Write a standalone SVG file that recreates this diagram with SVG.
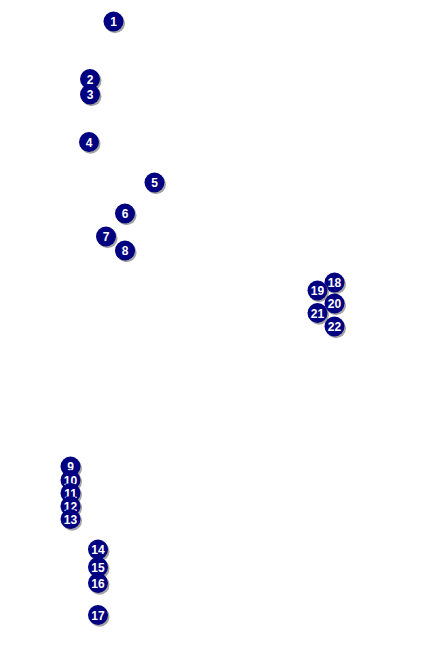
<svg xmlns="http://www.w3.org/2000/svg" width="433" height="650" viewBox="0 0 433 650">
<defs>
<style>
.sh{fill:#8c8c8c;opacity:0.8}
.c{fill:#000080}
.t{fill:#fff;font-family:"Liberation Sans",Arial,sans-serif;font-weight:bold;font-size:12px;text-anchor:middle}
</style>
<g id="mk">
<circle class="sh" cx="1.5" cy="1.8" r="10"/>
<circle class="c" cx="0" cy="0" r="10"/>
</g>
</defs>
<rect width="433" height="650" fill="#fff"/>
<g id="connectors"></g>
<g id="n1" transform="translate(113.5,21.5)"><use href="#mk"/><text class="t" y="4.5">1</text></g>
<g id="n2" transform="translate(90,79)"><use href="#mk"/><text class="t" y="4.5">2</text></g>
<g id="n3" transform="translate(90,94.5)"><use href="#mk"/><text class="t" y="4.5">3</text></g>
<g id="n4" transform="translate(89,142)"><use href="#mk"/><text class="t" y="4.5">4</text></g>
<g id="n5" transform="translate(154.5,182.5)"><use href="#mk"/><text class="t" y="4.5">5</text></g>
<g id="n6" transform="translate(125,213.5)"><use href="#mk"/><text class="t" y="4.5">6</text></g>
<g id="n7" transform="translate(106,236.5)"><use href="#mk"/><text class="t" y="4.5">7</text></g>
<g id="n8" transform="translate(125,250.5)"><use href="#mk"/><text class="t" y="4.5">8</text></g>
<g id="n9" transform="translate(70.5,466.5)"><use href="#mk"/><text class="t" y="4.5">9</text></g>
<g id="n10" transform="translate(70.5,480)"><use href="#mk"/><text class="t" y="4.5">10</text></g>
<g id="n11" transform="translate(70.5,493)"><use href="#mk"/><text class="t" y="4.5">11</text></g>
<g id="n12" transform="translate(70.5,506)"><use href="#mk"/><text class="t" y="4.5">12</text></g>
<g id="n13" transform="translate(70.5,519)"><use href="#mk"/><text class="t" y="4.5">13</text></g>
<g id="n14" transform="translate(98,549.5)"><use href="#mk"/><text class="t" y="4.5">14</text></g>
<g id="n15" transform="translate(98,567)"><use href="#mk"/><text class="t" y="4.5">15</text></g>
<g id="n16" transform="translate(98,583)"><use href="#mk"/><text class="t" y="4.5">16</text></g>
<g id="n17" transform="translate(98,615)"><use href="#mk"/><text class="t" y="4.5">17</text></g>
<g id="n18" transform="translate(334.5,282.5)"><use href="#mk"/><text class="t" y="4.5">18</text></g>
<g id="n19" transform="translate(317.5,290.5)"><use href="#mk"/><text class="t" y="4.5">19</text></g>
<g id="n20" transform="translate(334.5,303.5)"><use href="#mk"/><text class="t" y="4.5">20</text></g>
<g id="n21" transform="translate(317.5,313)"><use href="#mk"/><text class="t" y="4.5">21</text></g>
<g id="n22" transform="translate(334.5,326.5)"><use href="#mk"/><text class="t" y="4.5">22</text></g>
</svg>
